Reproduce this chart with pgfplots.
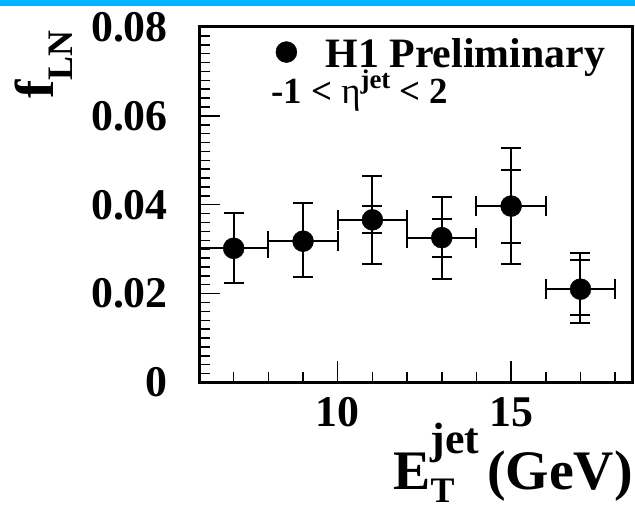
\documentclass[border=0pt]{standalone}
\usepackage{pgfplots}
\pgfplotsset{compat=1.18}
\usepackage{pgfplotstable}
\usepackage{fontspec}
\setmainfont{Liberation Serif}
\definecolor{topblue}{RGB}{0,180,255}

\pgfplotstableread{
x  y      ex  ep     em
7  0.0302 1   0.0080 0.0077
9  0.0318 1   0.0087 0.0081
11 0.0366 1   0.0099 0.0099
13 0.0326 1   0.0092 0.0094
15 0.0397 1   0.0130 0.0130
17 0.0210 1   0.0081 0.0075
}\totaldata

\pgfplotstableread{
x  y      ep     em
11 0.0366 0.0031 0.0030
13 0.0326 0.0043 0.0044
15 0.0397 0.0081 0.0082
17 0.0210 0.0066 0.0058
}\statdata

\begin{document}
\begin{tikzpicture}[x=1bp,y=1bp]
\path[use as bounding box] (0,0) rectangle (635,509);
\fill[topblue] (0,503) rectangle (635,509);
\begin{axis}[
  at={(199bp,126.5bp)}, anchor=south west,
  scale only axis, width=433.5bp, height=355.5bp,
  xmin=6, xmax=18.5, ymin=0, ymax=0.08,
  axis line style={line width=3bp, black},
  tick pos=left, tick align=inside,
  major tick length=21bp, minor tick length=10.5bp,
  tick style={line width=1.5bp, black},
  xtick={10,15},
  minor xtick={7,8,9,11,12,13,14,16,17,18},
  ytick={0,0.02,0.04,0.06,0.08},
  yticklabels={0,0.02,0.04,0.06,0.08},
  minor y tick num=9,
  scaled y ticks=false,
  /pgf/number format/assume math mode=true,
  ticklabel style={font=\fontsize{44}{44}\selectfont\bfseries, inner sep=0pt},
  xticklabel shift=14.5bp,
  yticklabel shift=31bp,
  legend style={draw=none, fill=none, inner sep=0pt, column sep=0pt,
    nodes={inner sep=0pt, anchor=base west},
    font=\fontsize{42}{42}\selectfont\bfseries,
    at={(axis description cs:0.1753,0.926)}, anchor=west},
  legend cell align=left,
  legend image code/.code={\path (-11bp,0bp) (39bp,0bp); \draw[#1] plot coordinates {(0bp,15bp)};},
  clip=false,
]
\addplot[forget plot, only marks, mark=none, black,
  error bars/.cd, x dir=both, x explicit, y dir=both, y explicit,
  error bar style={line width=2bp, black},
  error mark options={rotate=90, mark size=10bp, line width=2bp, black}]
  table[x=x, y=y, x error=ex, y error plus=ep, y error minus=em] {\totaldata};
\addplot[forget plot, only marks, mark=none, black,
  error bars/.cd, y dir=both, y explicit,
  error bar style={line width=2bp, black},
  error mark options={rotate=90, mark size=10bp, line width=2bp, black}]
  table[x=x, y=y, y error plus=ep, y error minus=em] {\statdata};
\addplot[only marks, mark=*, mark size=10.5bp, black, mark options={fill=black}]
  table[x=x, y=y] {\totaldata};
\addlegendentry{H1 Preliminary}
\node[anchor=base west, inner sep=0pt] at (axis description cs:0.166,0.786)
  {\fontsize{37}{37}\selectfont\bfseries -1 < {\mdseries η}\raisebox{15bp}{\fontsize{27}{27}\selectfont jet} < 2};
\end{axis}
\node[rotate=90, anchor=base east, inner sep=0pt] at (53,479)
  {\fontsize{55}{55}\selectfont\bfseries f\raisebox{-19bp}{\fontsize{36}{36}\selectfont LN}};
\node[anchor=base east, inner sep=0pt] at (633,19)
  {\fontsize{56}{56}\selectfont\bfseries E\rlap{\raisebox{-13bp}{\fontsize{36}{36}\selectfont T}}\raisebox{36bp}{\fontsize{44}{44}\selectfont jet}\kern8bp(GeV)};
\end{tikzpicture}
\end{document}
